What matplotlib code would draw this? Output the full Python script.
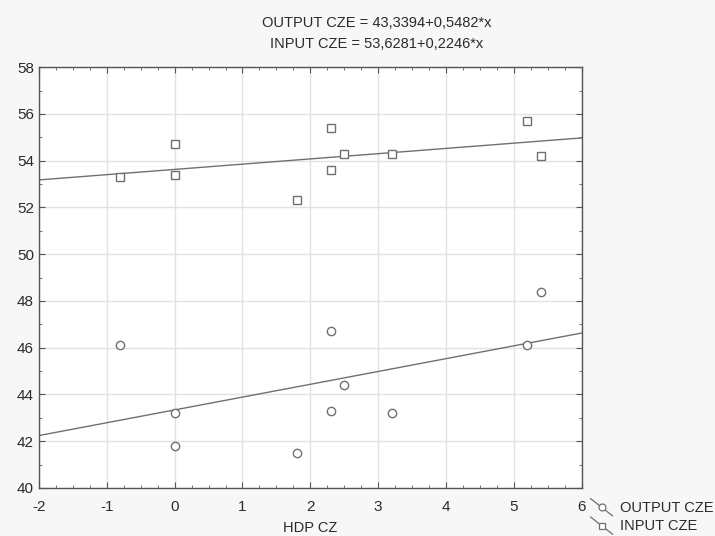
import numpy as np
import matplotlib
matplotlib.use("Agg")
import matplotlib.pyplot as plt
from matplotlib.lines import Line2D
from matplotlib.legend_handler import HandlerBase
from matplotlib.ticker import MultipleLocator

plt.rcParams['font.family'] = ['Liberation Sans', 'DejaVu Sans']
plt.rcParams['axes.unicode_minus'] = False

# HDP CZ values and the two CZE series
hdp_output = [-0.8, 0.0, 0.0, 1.8, 2.3, 2.3, 2.5, 3.2, 5.2, 5.4]
output_cze = [46.1, 43.2, 41.8, 41.5, 46.7, 43.3, 44.4, 43.2, 46.1, 48.4]

hdp_input = [-0.8, 0.0, 0.0, 1.8, 2.3, 2.3, 2.5, 3.2, 5.2, 5.4]
input_cze = [53.3, 54.7, 53.4, 52.3, 55.4, 53.6, 54.3, 54.3, 55.7, 54.2]

# fitted lines shown in the title
fit_output = (43.3394, 0.5482)
fit_input = (53.6281, 0.2246)

x_range = [-2, 6]
y_range = [40, 58]

grey = '#707070'
text_col = '#2b2b2b'


class DiagHandler(HandlerBase):
    def create_artists(self, legend, orig_handle, xdescent, ydescent,
                       width, height, fontsize, trans):
        x0, x1 = -xdescent, width - xdescent
        y0, y1 = height - ydescent + 2, -ydescent - 3
        ln = Line2D([x0, x1], [y0, y1], color=grey, lw=0.9, transform=trans)
        mk = Line2D([(x0 + x1) / 2], [(y0 + y1) / 2], marker=orig_handle.get_marker(),
                    ms=5, mfc='white', mec=grey, mew=0.9, ls='none', transform=trans)
        return [ln, mk]


fig = plt.figure(figsize=(7.15, 5.36), dpi=100, facecolor='#f7f7f7')
ax = fig.add_axes([0.0545, 0.0896, 0.759, 0.785])
ax.set_facecolor('white')

xs = np.array(x_range)
ax.plot(xs, fit_output[0] + fit_output[1] * xs, color=grey, lw=1.0, zorder=2)
ax.plot(xs, fit_input[0] + fit_input[1] * xs, color=grey, lw=1.0, zorder=2)

h1, = ax.plot(hdp_output, output_cze, ls='none', marker='o', ms=6,
              mfc='white', mec=grey, mew=1.0, zorder=3, label='OUTPUT CZE')
h2, = ax.plot(hdp_input, input_cze, ls='none', marker='s', ms=6,
              mfc='white', mec=grey, mew=1.0, zorder=3, label='INPUT CZE')

ax.set_xlim(x_range)
ax.set_ylim(y_range)
ax.xaxis.set_major_locator(MultipleLocator(1))
ax.xaxis.set_minor_locator(MultipleLocator(0.25))
ax.yaxis.set_major_locator(MultipleLocator(2))
ax.yaxis.set_minor_locator(MultipleLocator(1))
ax.grid(True, which='major', color='#e2e2e2', lw=1.0, zorder=0)
ax.tick_params(which='both', direction='in', top=True, right=True,
               colors='#555555', labelcolor=text_col, labelsize=11)
ax.tick_params(which='major', length=4)
ax.tick_params(which='minor', length=2.5)
ax.tick_params(axis='x', which='major', pad=9)
for s in ax.spines.values():
    s.set_color('#555555')
    s.set_linewidth(1.0)

ax.set_xlabel('HDP CZ', fontsize=10.5, color=text_col, labelpad=5)

fig.text(0.527, 0.958, 'OUTPUT CZE = 43,3394+0,5482*x', ha='center', va='center',
         fontsize=10.5, color=text_col)
fig.text(0.527, 0.918, 'INPUT CZE = 53,6281+0,2246*x', ha='center', va='center',
         fontsize=10.5, color=text_col)

fig.legend(handles=[h1, h2], loc='upper left', bbox_to_anchor=(0.826, 0.066),
           frameon=False, fontsize=10.5, handlelength=1.5, handletextpad=0.5,
           labelspacing=0.3, borderaxespad=0, borderpad=0,
           handler_map={Line2D: DiagHandler()}, labelcolor=text_col)

fig.savefig('out.png', dpi=100, facecolor=fig.get_facecolor())
